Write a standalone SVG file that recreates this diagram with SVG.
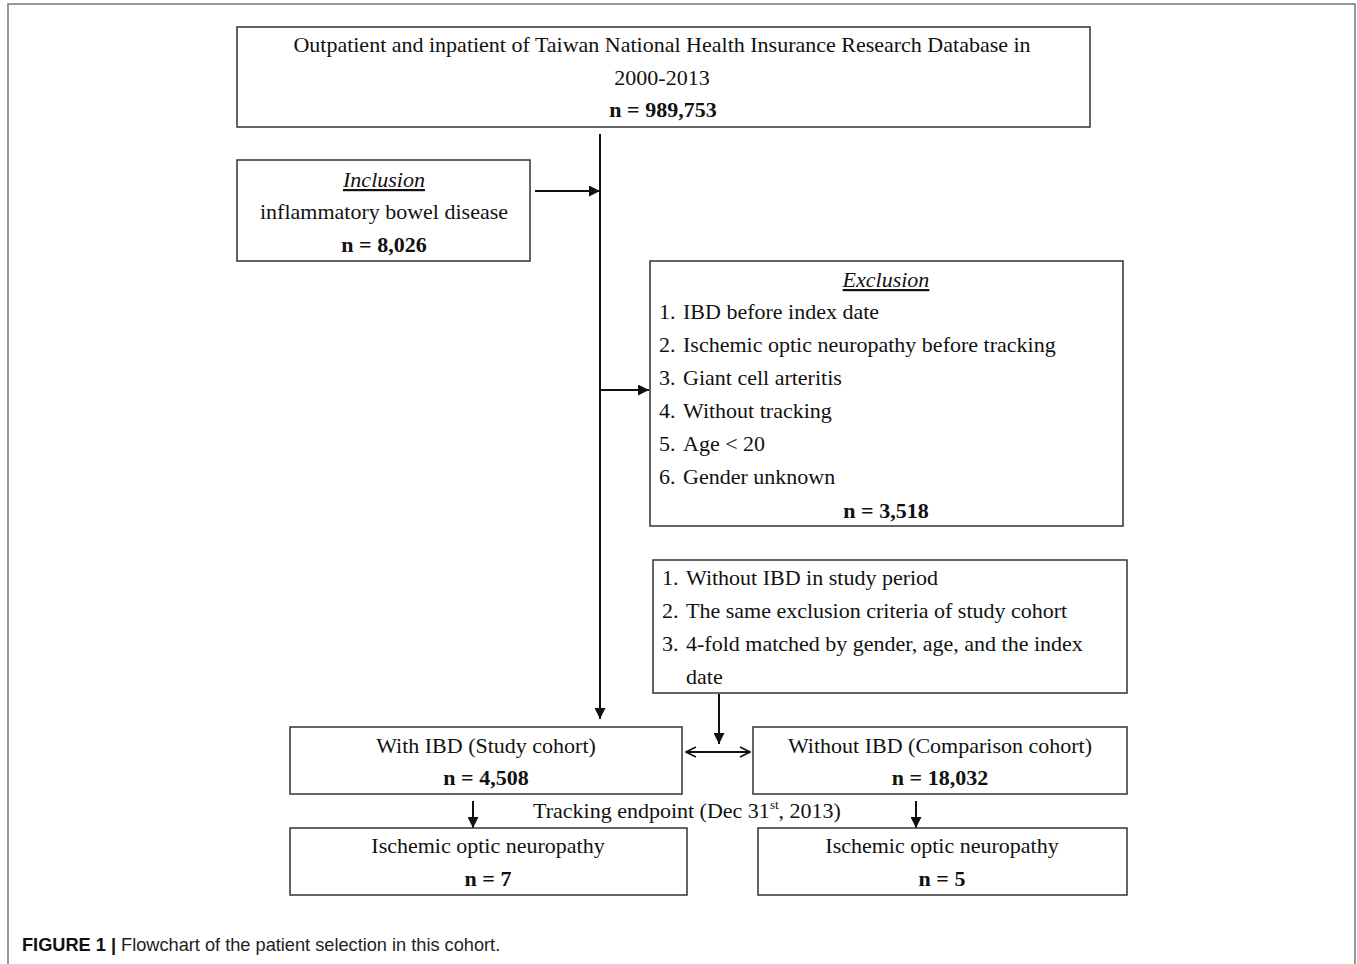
<svg xmlns="http://www.w3.org/2000/svg" width="1357" height="964" viewBox="0 0 1357 964">
<defs>
<marker id="ah" viewBox="0 0 10 10" refX="10" refY="5" markerWidth="11" markerHeight="11" markerUnits="userSpaceOnUse" orient="auto-start-reverse">
<path d="M0,0 L10,5 L0,10 z" fill="#111"/>
</marker>
<marker id="ao" viewBox="0 0 12 12" refX="11" refY="6" markerWidth="12" markerHeight="12" markerUnits="userSpaceOnUse" orient="auto-start-reverse">
<path d="M1,1 L11,6 L1,11" fill="none" stroke="#111" stroke-width="1.6"/>
</marker>
<style>
.box{fill:#fff;stroke:#333;stroke-width:1.5}
.t{font-family:"Liberation Serif","Times New Roman",serif;font-size:22px;fill:#111}
.c{text-anchor:middle}
.b{font-weight:bold}
.i{font-style:italic;text-decoration:underline}
.ln{stroke:#111;stroke-width:2;fill:none}
.cap{font-family:"Liberation Sans",Arial,sans-serif;font-size:18.2px;fill:#222}
</style>
</defs>
<rect x="0" y="0" width="1357" height="964" fill="#fff"/>
<path d="M8,964 L8,4 L1355,4 L1355,964" fill="none" stroke="#777" stroke-width="1.5"/>

<g id="connectors">
<line class="ln" x1="600" y1="134" x2="600" y2="719" marker-end="url(#ah)"/>
<line class="ln" x1="535" y1="191" x2="600" y2="191" marker-end="url(#ah)"/>
<line class="ln" x1="600" y1="390" x2="649" y2="390" marker-end="url(#ah)"/>
<line class="ln" x1="719" y1="694" x2="719" y2="744" marker-end="url(#ah)"/>
<line class="ln" x1="686" y1="752" x2="750" y2="752" marker-start="url(#ao)" marker-end="url(#ao)"/>
<line class="ln" x1="473" y1="801" x2="473" y2="828" marker-end="url(#ah)"/>
<line class="ln" x1="916" y1="801" x2="916" y2="828" marker-end="url(#ah)"/>
</g>

<g id="source">
<rect class="box" x="237" y="27" width="853" height="100"/>
<text class="t c" x="662" y="52">Outpatient and inpatient of Taiwan National Health Insurance Research Database in</text>
<text class="t c" x="662" y="85">2000-2013</text>
<text class="t c b" x="663" y="117">n = 989,753</text>
</g>

<g id="inclusion">
<rect class="box" x="237" y="160" width="293" height="101"/>
<text class="t c i" x="384" y="187">Inclusion</text>
<text class="t c" x="384" y="219">inflammatory bowel disease</text>
<text class="t c b" x="384" y="252">n = 8,026</text>
</g>

<g id="exclusion">
<rect class="box" x="650" y="261" width="473" height="265"/>
<text class="t c i" x="886" y="287">Exclusion</text>
<text class="t" x="659" y="319">1.</text><text class="t" x="683" y="319">IBD before index date</text>
<text class="t" x="659" y="352">2.</text><text class="t" x="683" y="352">Ischemic optic neuropathy before tracking</text>
<text class="t" x="659" y="385">3.</text><text class="t" x="683" y="385">Giant cell arteritis</text>
<text class="t" x="659" y="418">4.</text><text class="t" x="683" y="418">Without tracking</text>
<text class="t" x="659" y="451">5.</text><text class="t" x="683" y="451">Age &lt; 20</text>
<text class="t" x="659" y="484">6.</text><text class="t" x="683" y="484">Gender unknown</text>
<text class="t c b" x="886" y="518">n = 3,518</text>
</g>

<g id="matching">
<rect class="box" x="653" y="560" width="474" height="133"/>
<text class="t" x="662" y="585">1.</text><text class="t" x="686" y="585">Without IBD in study period</text>
<text class="t" x="662" y="618">2.</text><text class="t" x="686" y="618">The same exclusion criteria of study cohort</text>
<text class="t" x="662" y="651">3.</text><text class="t" x="686" y="651">4-fold matched by gender, age, and the index</text>
<text class="t" x="686" y="684">date</text>
</g>

<g id="study">
<rect class="box" x="290" y="727" width="392" height="67"/>
<text class="t c" x="486" y="753">With IBD (Study cohort)</text>
<text class="t c b" x="486" y="785">n = 4,508</text>
</g>

<g id="comparison">
<rect class="box" x="753" y="727" width="374" height="67"/>
<text class="t c" x="940" y="753">Without IBD (Comparison cohort)</text>
<text class="t c b" x="940" y="785">n = 18,032</text>
</g>

<g id="tracking">
<text class="t" x="533" y="818">Tracking endpoint (Dec 31<tspan font-size="13" dy="-9">st</tspan><tspan dy="9">, 2013)</tspan></text>
</g>

<g id="ion-study">
<rect class="box" x="290" y="828" width="397" height="67"/>
<text class="t c" x="488" y="853">Ischemic optic neuropathy</text>
<text class="t c b" x="488" y="886">n = 7</text>
</g>

<g id="ion-comparison">
<rect class="box" x="758" y="828" width="369" height="67"/>
<text class="t c" x="942" y="853">Ischemic optic neuropathy</text>
<text class="t c b" x="942" y="886">n = 5</text>
</g>

<g id="caption">
<text class="cap" x="22" y="951"><tspan font-weight="bold" fill="#111">FIGURE 1 |</tspan> Flowchart of the patient selection in this cohort.</text>
</g>
</svg>
